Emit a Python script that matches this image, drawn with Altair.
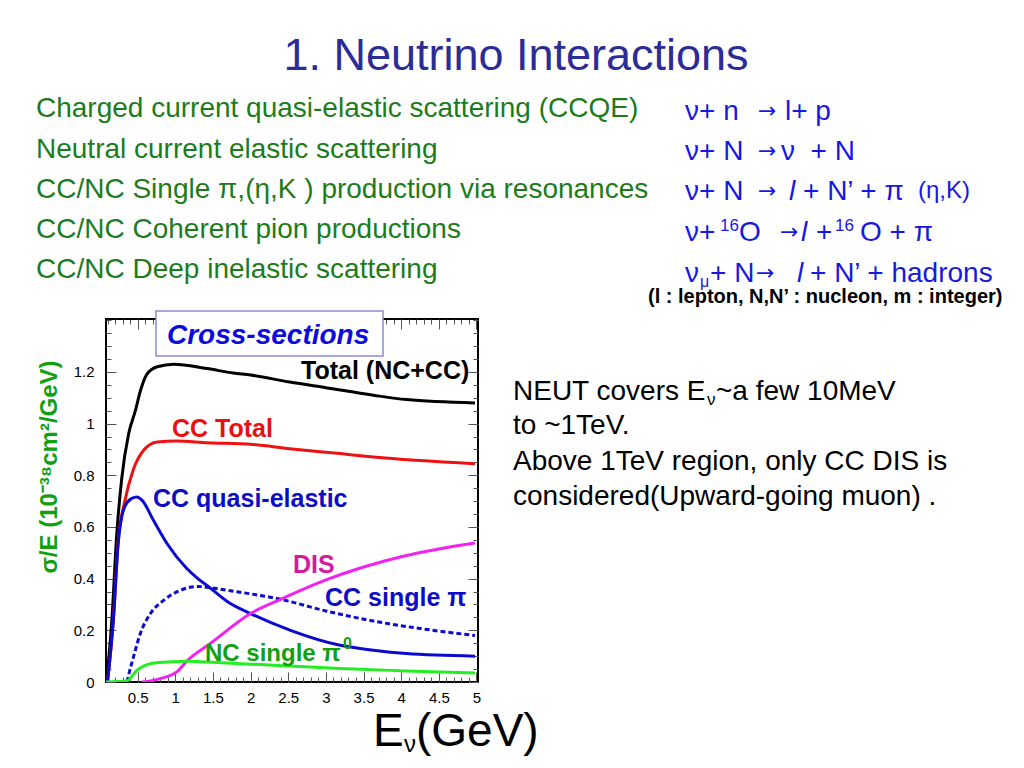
import altair as alt
import pandas as pd

# ---------------- data ----------------
e_total = [0.08, 0.10, 0.16, 0.22, 0.29, 0.38, 0.47, 0.54, 0.62, 0.76, 0.98, 1.42, 1.77, 2.0, 2.52, 3.0, 3.63, 4.07, 4.98]
s_total = [0.0, 0.045, 0.25, 0.56, 0.79, 0.96, 1.05, 1.13, 1.19, 1.22, 1.23, 1.213, 1.196, 1.188, 1.161, 1.139, 1.11, 1.093, 1.08]

e_cc = [0.10, 0.18, 0.24, 0.33, 0.44, 0.58, 0.76, 1.02, 1.42, 2.0, 2.52, 3.19, 3.63, 4.98]
s_cc = [0.0, 0.25, 0.54, 0.70, 0.82, 0.897, 0.929, 0.933, 0.926, 0.92, 0.903, 0.884, 0.871, 0.845]

e_qe = [0.10, 0.18, 0.24, 0.33, 0.42, 0.49, 0.56, 0.71, 0.89, 1.15, 1.3, 1.46, 1.7, 2.0, 2.53, 3.19, 3.63, 4.07, 4.98]
s_qe = [0.0, 0.25, 0.53, 0.68, 0.71, 0.716, 0.703, 0.626, 0.536, 0.44, 0.40, 0.365, 0.31, 0.265, 0.20, 0.142, 0.123, 0.11, 0.10]

e_pi = [0.36, 0.38, 0.445, 0.535, 0.67, 0.845, 1.07, 1.3, 1.46, 1.69, 2.4, 3.0, 3.65, 4.3, 4.98]
s_pi = [0.0, 0.026, 0.097, 0.187, 0.265, 0.316, 0.355, 0.37, 0.365, 0.355, 0.32, 0.275, 0.235, 0.205, 0.18]

e_dis = [0.55, 0.65, 0.80, 1.02, 1.15, 1.47, 2.0, 2.4, 3.0, 3.5, 4.0, 4.5, 4.98]
s_dis = [0.0, 0.003, 0.013, 0.039, 0.08, 0.15, 0.265, 0.32, 0.395, 0.445, 0.485, 0.515, 0.538]

e_nc = [0.08, 0.36, 0.49, 0.67, 0.89, 1.16, 1.42, 2.3, 3.19, 4.07, 4.98]
s_nc = [0.0, 0.005, 0.045, 0.071, 0.077, 0.08, 0.077, 0.065, 0.052, 0.043, 0.035]

x_major = [0.5, 1, 1.5, 2, 2.5, 3, 3.5, 4, 4.5, 5]
x_minor = [round(0.1 * i, 1) for i in range(1, 51)]
y_major = [0, 0.2, 0.4, 0.6, 0.8, 1, 1.2]
y_minor = [round(0.05 * i, 2) for i in range(0, 29)]

FONT = "Liberation Sans"
W, H = 372, 363          # plot area
X0, Y0 = 106, 319        # page position of the plot's top-left corner
NB = "\u00a0"

xs = alt.Scale(domain=[0.08, 5.02], nice=False, zero=False)
ys = alt.Scale(domain=[0, 1.405], nice=False, zero=False)


def frame_axis(orient, values, size, labels=False):
    if labels:
        return alt.Axis(orient=orient, values=values, ticks=False, domain=False, grid=False,
                        labels=True, labelFont=FONT, labelFontSize=15, labelColor="black",
                        labelPadding=8 if orient == "bottom" else 12, labelFlush=False,
                        labelOverlap=False, format="~g", title=None)
    return alt.Axis(orient=orient, values=values, ticks=True, tickSize=size, offset=-size,
                    tickColor="#555", tickWidth=1, domain=False, grid=False, labels=False,
                    title=None)


def series(e, s, color, xaxis, yaxis, dash=None):
    df = pd.DataFrame({"E": e, "S": s})
    kw = dict(color=color, strokeWidth=3, interpolate="monotone", clip=True)
    if dash:
        kw["strokeDash"] = dash
    return alt.Chart(df).mark_line(**kw).encode(
        x=alt.X("E:Q", scale=xs, axis=xaxis),
        y=alt.Y("S:Q", scale=ys, axis=yaxis),
    )


blank = pd.DataFrame({"k": [0]})


def txt(text, x, y, size, color, weight="normal", style="normal", align="left",
        baseline="alphabetic", angle=0, font=FONT):
    return alt.Chart(blank).mark_text(
        text=text, align=align, baseline=baseline, fontSize=size, color=color,
        fontWeight=weight, fontStyle=style, font=font, angle=angle,
    ).encode(x=alt.value(x - X0), y=alt.value(y - Y0))


def arrow(x, y):
    return txt("→", x, y, 22, BLUE_T, font="DejaVu Sans")


BLUE_T = "#1818e4"
GREEN_T = "#1c7c1c"

layers = [
    series(e_total, s_total, "black", frame_axis("bottom", x_major, 0, True), frame_axis("left", y_major, 0, True)),
    series(e_cc, s_cc, "#ee1111", frame_axis("bottom", x_major, 10), frame_axis("left", y_major, 10)),
    series(e_pi, s_pi, "#0a0ad0", frame_axis("top", x_major, 10), frame_axis("right", y_major, 10), dash=[5, 3]),
    series(e_qe, s_qe, "#0a0ad0", frame_axis("bottom", x_minor, 5), frame_axis("left", y_minor, 5)),
    series(e_dis, s_dis, "#f222f2", frame_axis("top", x_minor, 5), frame_axis("right", y_minor, 5)),
    series(e_nc, s_nc, "#22ee22", None, None),
]

# box of "Cross-sections"
box = alt.Chart(blank).mark_rect(fill="white", stroke="#8c8cd0", strokeWidth=1.5).encode(
    x=alt.value(156 - X0), x2=alt.value(383 - X0), y=alt.value(311 - Y0), y2=alt.value(356 - Y0))
layers.append(box)

texts = [
    # in-plot labels
    txt("Cross-sections", 167, 344, 28, "#0a0ae0", weight="bold", style="italic"),
    txt("Total (NC+CC)", 301, 379, 25, "black", weight="bold"),
    txt("CC Total", 172, 437, 25, "#e81010", weight="bold"),
    txt("CC quasi-elastic", 153, 507, 25, "#0c0cc8", weight="bold"),
    txt("DIS", 293, 573, 25, "#d21ca0", weight="bold"),
    txt("CC single π", 325, 606, 25, "#0c0cc8", weight="bold"),
    txt("NC single π", 205, 661, 24, "#12a012", weight="bold"),
    txt("0", 343, 649, 16, "#12a012", weight="bold"),
    # y axis title
    txt("σ/E (10⁻³⁸cm²/GeV)", 57, 467, 24, "#10a010", weight="bold", align="center", angle=270),
    # x axis title
    txt("E", 373, 746, 46, "black"),
    txt("ν", 404, 752, 24, "black"),
    txt("(GeV)", 416, 746, 46, "black"),
    # slide title
    txt("1. Neutrino Interactions", 516, 70, 45, "#2c2c96", align="center"),
    # left column
    txt("Charged current quasi-elastic scattering (CCQE)", 36, 117, 28, GREEN_T),
    txt("Neutral current elastic scattering", 36, 158, 28, GREEN_T),
    txt("CC/NC Single π,(η,K ) production via resonances", 36, 198, 28, GREEN_T),
    txt("CC/NC Coherent pion productions", 36, 238, 28, GREEN_T),
    txt("CC/NC Deep inelastic scattering", 36, 278, 28, GREEN_T),
    # right column formulas
    txt("ν+ n", 685, 120, 28, BLUE_T), arrow(758, 118), txt("l+ p", 785, 120, 28, BLUE_T),
    txt("ν+ N", 685, 160, 28, BLUE_T), arrow(758, 158), txt("ν" + NB + NB + "+ N", 781, 160, 28, BLUE_T),
    txt("ν+ N", 685, 200, 28, BLUE_T), arrow(758, 198), txt("l", 789, 200, 28, BLUE_T, style="italic"),
    txt("+ N’ + π", 803, 200, 28, BLUE_T), txt("(η,K)", 918, 198, 24, BLUE_T),
    txt("ν+", 685, 241, 28, BLUE_T), txt("16", 720, 231, 17, BLUE_T), txt("O", 739, 241, 28, BLUE_T),
    arrow(780, 239), txt("l", 801, 241, 28, BLUE_T, style="italic"),
    txt("+", 816, 241, 28, BLUE_T), txt("16", 835, 231, 17, BLUE_T), txt("O + π", 860, 241, 28, BLUE_T),
    txt("ν", 685, 282, 28, BLUE_T), txt("μ", 700, 287, 16, BLUE_T), txt("+ N", 710, 282, 28, BLUE_T),
    arrow(756, 280), txt("l", 797, 282, 28, BLUE_T, style="italic"),
    txt("+ N’ + hadrons", 810, 282, 28, BLUE_T),
    txt("(l : lepton, N,N’ : nucleon, m : integer)", 648, 303, 20, "black", weight="bold"),
    # right middle text
    txt("NEUT covers E", 513, 400, 28, "black"), txt("ν", 707, 405, 17, "black"),
    txt("~a few 10MeV", 716, 400, 28, "black"),
    txt("to ~1TeV.", 513, 434, 28, "black"),
    txt("Above 1TeV region, only CC DIS is", 513, 470, 28, "black"),
    txt("considered(Upward-going muon) .", 513, 505, 28, "black"),
]
layers.extend(texts)

chart = alt.layer(*layers).resolve_axis(x="independent", y="independent").properties(
    width=W, height=H,
    autosize=alt.AutoSizeParams(type="none"),
    padding={"left": X0 - 8, "top": Y0 - 8, "right": 1008 - (X0 - 8) - W, "bottom": 752 - (Y0 - 8) - H},
    background="white",
).configure_view(stroke="black", strokeWidth=2)

chart.save("out.html", embed_options={"renderer": "svg", "actions": False})
